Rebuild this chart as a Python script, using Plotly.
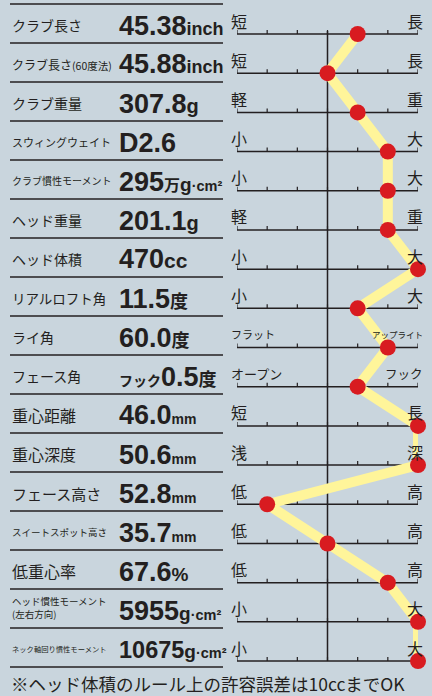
import plotly.graph_objects as go

# ---------------- data ----------------
labels = ["クラブ長さ", "クラブ長さ(60度法)", "クラブ重量", "スウィングウェイト", "クラブ慣性モーメント",
          "ヘッド重量", "ヘッド体積", "リアルロフト角", "ライ角", "フェース角", "重心距離", "重心深度",
          "フェース高さ", "スイートスポット高さ", "低重心率", "ヘッド慣性モーメント\n(左右方向)",
          "ネック軸回り慣性モーメント"]
value_prefix = ["", "", "", "", "", "", "", "", "", "フック", "", "", "", "", "", "", ""]
value_numbers = ["45.38", "45.88", "307.8", "D2.6", "295", "201.1", "470", "11.5", "60.0", "0.5",
                 "46.0", "50.6", "52.8", "35.7", "67.6", "5955", "10675"]
value_units = ["inch", "inch", "g", "", "万g·cm²", "g", "cc", "度", "度", "度",
               "mm", "mm", "mm", "mm", "%", "g·cm²", "g·cm²"]
low_labels = ["短", "短", "軽", "小", "小", "軽", "小", "小", "フラット", "オープン",
              "短", "浅", "低", "低", "低", "小", "小"]
high_labels = ["長", "長", "重", "大", "大", "重", "大", "大", "アップライト", "フック",
               "長", "深", "高", "高", "高", "大", "大"]
scores = [1, 0, 1, 2, 2, 2, 3, 1, 2, 1, 3, 3, -2, 0, 2, 3, 3]
scale_ticks = [-3, -2, -1, 0, 1, 2, 3]
footnote = "※ヘッド体積のルール上の許容誤差は10ccまでOK"

# ---------------- style ----------------
W, H = 432, 696
BG = "#c9d5dd"
INK = "#231f20"
YELLOW = "#fff59a"
RED = "#d81b20"
JP = "Noto Sans CJK JP"
NUM = "Liberation Sans, Arial, sans-serif"

label_sizes = [14, 12, 14, 11, 10, 14, 14, 13.5, 14, 14, 16, 16, 15, 9.5, 16, 9.5, 7.3]
number_sizes = [27, 27, 27, 27, 27, 27, 27, 27, 27, 27, 27, 27, 27, 27, 27, 27, 23.5]
end_sizes = {"フラット": 11, "アップライト": 8.5, "オープン": 13, "フック": 12.5}


def span(text, size, family, bold=True):
    return "<span style='font-size:%gpx;font-family:%s'>%s</span>" % (
        size, family, ("<b>%s</b>" % text) if bold else text)


def unit_markup(u):
    if u == "":
        return ""
    if u == "inch":
        return span(u, 18, NUM)
    if u == "g":
        return span(u, 20, NUM)
    if u == "cc":
        return span(u, 21, NUM)
    if u == "mm":
        return span(u, 14, NUM)
    if u == "%":
        return span(u, 19, NUM)
    if u == "度":
        return span(u, 18, JP)
    out = ""
    if u.startswith("万"):
        out += span("万", 16, JP)
        u = u[1:]
    out += span("g", 19, NUM) + span(u[1:], 14.5, NUM)
    return out


AX_TOP = 34.0
AX_PITCH = 39.19
SEP_TOP = 4.0
SEP_PITCH = 39.0
n = len(labels)


def py2paper(py):
    return 1 - py / H


fig = go.Figure()
rows = list(range(n))
fig.add_trace(go.Scatter(x=scores, y=rows, mode="lines",
                         line=dict(color=YELLOW, width=10), cliponaxis=False,
                         hoverinfo="skip", showlegend=False))
fig.add_trace(go.Scatter(x=scores, y=rows, mode="markers",
                         marker=dict(color=RED, size=16, line=dict(width=0)),
                         cliponaxis=False, showlegend=False))

shapes = []
for i in rows:
    shapes.append(dict(type="line", xref="x", yref="y", x0=scale_ticks[0], x1=scale_ticks[-1],
                       y0=i, y1=i, line=dict(color=INK, width=1.5), layer="below"))
    for t in scale_ticks:
        shapes.append(dict(type="line", xref="x", yref="y", x0=t, x1=t,
                           y0=i, y1=i - 4 / AX_PITCH, line=dict(color=INK, width=1.2), layer="below"))
shapes.append(dict(type="line", xref="x", yref="y", x0=0, x1=0, y0=-3 / AX_PITCH, y1=n - 1,
                   line=dict(color=INK, width=1.5), layer="below"))
for k in range(n + 1):
    yy = py2paper(SEP_TOP + SEP_PITCH * k)
    shapes.append(dict(type="line", xref="paper", yref="paper", x0=10 / W, x1=223 / W,
                       y0=yy, y1=yy, line=dict(color=INK, width=1.5)))

annotations = []
for i in rows:
    cy_px = SEP_TOP + SEP_PITCH * i + 19.5
    lab = labels[i]
    if "\n" in lab:
        parts = lab.split("\n")
        offs = [-7.5, 5.5]
        for part, off in zip(parts, offs):
            annotations.append(dict(xref="paper", yref="paper", x=10 / W, y=py2paper(cy_px + off),
                                    xanchor="left", yanchor="middle", text=part, showarrow=False,
                                    font=dict(family=JP, size=label_sizes[i], color=INK)))
    else:
        if "(" in lab:
            a, b = lab.split("(", 1)
            txt = a + "<span style='font-size:%gpx'>(%s</span>" % (label_sizes[i] - 1.5, b)
        else:
            txt = lab
        annotations.append(dict(xref="paper", yref="paper", x=10 / W, y=py2paper(cy_px + 1.5),
                                xanchor="left", yanchor="middle", text=txt, showarrow=False,
                                font=dict(family=JP, size=label_sizes[i], color=INK)))
    vt = ""
    if value_prefix[i]:
        vt += span(value_prefix[i], 14, JP)
    vt += "<b>%s</b>" % value_numbers[i]
    vt += unit_markup(value_units[i])
    annotations.append(dict(xref="paper", yref="paper", x=117 / W, y=py2paper(cy_px + 2), xanchor="left",
                            yanchor="middle", text=vt, showarrow=False,
                            font=dict(family=NUM, size=number_sizes[i], color=INK)))
    annotations.append(dict(xref="paper", yref="y", x=229 / W, y=i, yshift=13.5,
                            xanchor="left", yanchor="middle", text=low_labels[i], showarrow=False,
                            font=dict(family=JP, size=end_sizes.get(low_labels[i], 16), color=INK)))
    annotations.append(dict(xref="paper", yref="y", x=425 / W, y=i, yshift=13.5,
                            xanchor="right", yanchor="middle", text=high_labels[i], showarrow=False,
                            font=dict(family=JP, size=end_sizes.get(high_labels[i], 16), color=INK)))

annotations.append(dict(xref="paper", yref="paper", x=9 / W, y=py2paper(683), xanchor="left",
                        yanchor="middle", text=footnote, showarrow=False,
                        font=dict(family=JP, size=17.5, color=INK)))

y_top = -AX_TOP / AX_PITCH
y_bot = (H - AX_TOP) / AX_PITCH
fig.update_layout(
    width=W, height=H, margin=dict(l=0, r=0, t=0, b=0),
    paper_bgcolor=BG, plot_bgcolor=BG,
    xaxis=dict(domain=[237 / W, 418 / W], range=[scale_ticks[0], scale_ticks[-1]], visible=False, fixedrange=True),
    yaxis=dict(domain=[0, 1], range=[y_bot, y_top], visible=False, fixedrange=True),
    shapes=shapes, annotations=annotations, showlegend=False,
)
fig.write_html("out.html", config={"displayModeBar": False})
with open("out.html", encoding="utf-8") as f:
    html = f.read()
html = html.replace("<head>", "<head><style>html,body{margin:0;padding:0;overflow:hidden;}</style>", 1)
with open("out.html", "w", encoding="utf-8") as f:
    f.write(html)
